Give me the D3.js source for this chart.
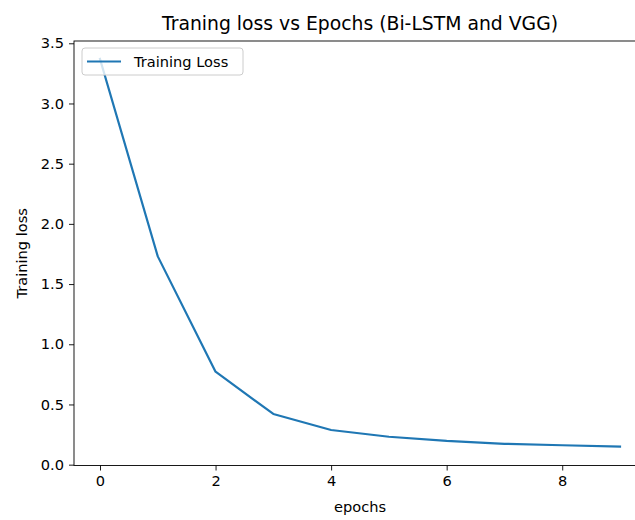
<!DOCTYPE html>
<html>
<head>
<meta charset="utf-8">
<script src="https://cdn.jsdelivr.net/npm/d3@7"></script>
<style>
  body { margin: 0; background: #fff; }
  text { font-family: "DejaVu Sans", sans-serif; fill: #000; }
</style>
</head>
<body>
<svg id="chart" width="635" height="520"></svg>
<script>
// training loss per epoch
var epochs = [0, 1, 2, 3, 4, 5, 6, 7, 8, 9];
var loss = [3.37, 1.73, 0.772, 0.421, 0.288, 0.232, 0.197, 0.173, 0.161, 0.150];
var xTicks = [0, 2, 4, 6, 8];
var yTicks = [0.0, 0.5, 1.0, 1.5, 2.0, 2.5, 3.0, 3.5];

var svg = d3.select('#chart');
var margin = {left: 74, top: 41, right: 646, bottom: 465.5};
var fs = '14.6px';

var x = d3.scaleLinear().domain([-0.45, 9.45]).range([margin.left, margin.right]);
var y = d3.scaleLinear().domain([-0.007, 3.519]).range([margin.bottom, margin.top]);

// x axis
var xAxis = svg.append('g')
  .attr('transform', 'translate(0,' + margin.bottom + ')')
  .call(d3.axisBottom(x).tickValues(xTicks).tickFormat(d3.format('d')).tickSizeOuter(0).tickSize(5).tickPadding(5));
xAxis.select('.domain').remove();
xAxis.selectAll('line').attr('stroke', '#000').attr('stroke-width', 0.9);
xAxis.selectAll('text').style('font-size', fs);

// y axis
var yAxis = svg.append('g')
  .attr('transform', 'translate(' + margin.left + ',0)')
  .call(d3.axisLeft(y).tickValues(yTicks).tickFormat(d3.format('.1f')).tickSizeOuter(0).tickSize(5).tickPadding(5));
yAxis.select('.domain').remove();
yAxis.selectAll('line').attr('stroke', '#000').attr('stroke-width', 0.9);
yAxis.selectAll('text').style('font-size', fs);

// spines
svg.append('rect')
  .attr('x', margin.left)
  .attr('y', margin.top)
  .attr('width', margin.right - margin.left)
  .attr('height', margin.bottom - margin.top)
  .attr('fill', 'none')
  .attr('stroke', '#000')
  .attr('stroke-width', 0.9);

// loss line
var line = d3.line()
  .x(function(d, i) { return x(epochs[i]); })
  .y(function(d) { return y(d); });

svg.append('path')
  .datum(loss)
  .attr('d', line)
  .attr('fill', 'none')
  .attr('stroke', '#1f77b4')
  .attr('stroke-width', 2.2)
  .attr('stroke-linejoin', 'round')
  .attr('stroke-linecap', 'square');

// legend
var legend = svg.append('g').attr('transform', 'translate(82,48)');
legend.append('rect')
  .attr('width', 161)
  .attr('height', 27)
  .attr('rx', 3)
  .attr('fill', '#fff')
  .attr('fill-opacity', 0.8)
  .attr('stroke', '#ccc')
  .attr('stroke-width', 1);
legend.append('line')
  .attr('x1', 5).attr('x2', 39)
  .attr('y1', 13.5).attr('y2', 13.5)
  .attr('stroke', '#1f77b4')
  .attr('stroke-width', 2.2);
legend.append('text')
  .attr('x', 52)
  .attr('y', 18.8)
  .style('font-size', fs)
  .text('Training Loss');

// title and axis labels
svg.append('text')
  .attr('x', (margin.left + margin.right) / 2)
  .attr('y', 30)
  .attr('text-anchor', 'middle')
  .style('font-size', '18.8px')
  .text('Traning loss vs Epochs (Bi-LSTM and VGG)');

svg.append('text')
  .attr('x', (margin.left + margin.right) / 2)
  .attr('y', 512)
  .attr('text-anchor', 'middle')
  .style('font-size', fs)
  .text('epochs');

svg.append('text')
  .attr('transform', 'translate(26.5,' + (margin.top + margin.bottom) / 2 + ') rotate(-90)')
  .attr('text-anchor', 'middle')
  .style('font-size', fs)
  .text('Training loss');
</script>
</body>
</html>
